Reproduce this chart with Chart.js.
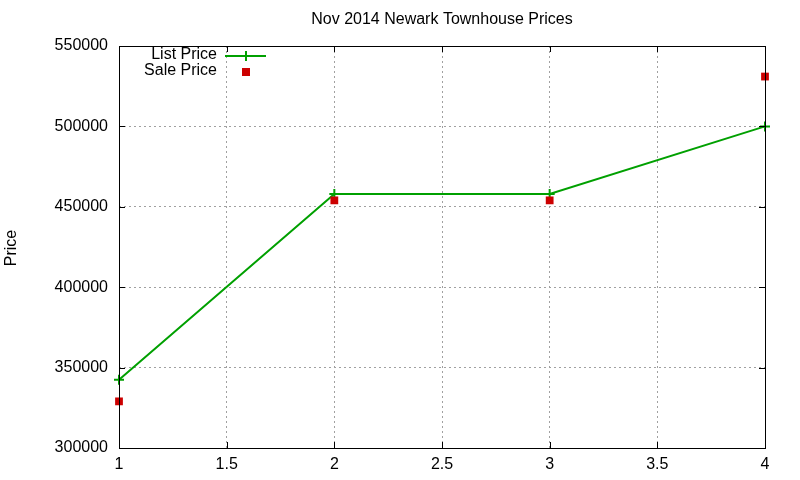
<!DOCTYPE html>
<html>
<head>
<meta charset="utf-8">
<script src="https://cdn.jsdelivr.net/npm/chart.js@4"></script>
<style>
  html, body { margin: 0; padding: 0; background: #fff; }
  #wrap { width: 800px; height: 480px; }
</style>
</head>
<body>
<div id="wrap"><canvas id="mycanvas" width="800" height="480"></canvas></div>
<script>
// values
var weeks = [1, 2, 3, 4];
var listPrice = [342500, 458000, 458000, 500000];
var salePrice = [329000, 454000, 454000, 531000];
var xTicks = [1, 1.5, 2, 2.5, 3, 3.5, 4];
var yTicks = [300000, 350000, 400000, 450000, 500000, 550000];

var FONT = '"Liberation Sans", Arial, sans-serif';

function pts(xs, ys) {
	var out = [];
	for (var i in xs) {
		out.push({x: xs[i], y: ys[i]});
	}
	return out;
}

// frame, inward ticks, title, y label and legend the gnuplot way
var gnuplotBits = {
	id: 'gnuplotBits',
	afterDraw: function(chart) {
		var c = chart.ctx;
		var a = chart.chartArea;
		var xs = chart.scales.x, ys = chart.scales.y;
		c.save();
		c.strokeStyle = '#000';
		c.lineWidth = 1;
		c.strokeRect(a.left + 0.5, a.top + 0.5, a.right - a.left, a.bottom - a.top);
		c.beginPath();
		xTicks.forEach(function(t) {
			var px = Math.round(xs.getPixelForValue(t)) + 0.5;
			c.moveTo(px, a.bottom); c.lineTo(px, a.bottom - 6);
			c.moveTo(px, a.top); c.lineTo(px, a.top + 6);
		});
		yTicks.forEach(function(t) {
			var py = Math.round(ys.getPixelForValue(t)) + 0.5;
			c.moveTo(a.left, py); c.lineTo(a.left + 6, py);
			c.moveTo(a.right, py); c.lineTo(a.right - 6, py);
		});
		c.stroke();

		c.fillStyle = '#000';
		c.font = '16px ' + FONT;
		c.textAlign = 'center';
		c.textBaseline = 'middle';
		c.fillText('Nov 2014 Newark Townhouse Prices', (a.left + a.right) / 2, 20);

		c.save();
		c.translate(12, 248);
		c.rotate(-Math.PI / 2);
		c.fillText('Price', 0, 0);
		c.restore();

		// legend
		c.textAlign = 'right';
		c.fillText('List Price', 217, 55);
		c.fillText('Sale Price', 217, 71);
		c.strokeStyle = '#00a000';
		c.lineWidth = 2;
		c.beginPath();
		c.moveTo(225, 56); c.lineTo(266, 56);
		c.moveTo(246, 51); c.lineTo(246, 61);
		c.stroke();
		c.fillStyle = '#cc0000';
		c.fillRect(242, 68, 8, 8);
		c.restore();
	}
};

var ctx = document.getElementById('mycanvas');

var chart = new Chart(ctx, {
	type: 'line',
	data: {
		datasets: [
			{
				label: 'Sale Price',
				data: pts(weeks, salePrice),
				showLine: false,
				pointStyle: 'rect',
				pointRadius: 5.5,
				backgroundColor: '#cc0000',
				borderColor: '#cc0000',
				borderWidth: 0,
				clip: false
			},
			{
				label: 'List Price',
				data: pts(weeks, listPrice),
				borderColor: '#00a000',
				backgroundColor: '#00a000',
				borderWidth: 2,
				pointStyle: 'cross',
				pointRadius: 5,
				pointBorderWidth: 2,
				tension: 0,
				clip: false
			}
		]
	},
	options: {
		responsive: false,
		animation: false,
		events: [],
		layout: { padding: { top: 46, right: 35, left: 0, bottom: 0 } },
		plugins: {
			legend: { display: false },
			title: { display: false },
			tooltip: { enabled: false }
		},
		scales: {
			x: {
				type: 'linear',
				min: 1,
				max: 4,
				afterBuildTicks: function(s) {
					s.ticks = xTicks.map(function(v) { return {value: v}; });
				},
				afterFit: function(s) { s.height = 32; },
				grid: { color: '#a0a0a0', drawTicks: false, lineWidth: 1 },
				border: { display: false, dash: [2, 3] },
				ticks: {
					color: '#000',
					padding: 7,
					maxRotation: 0,
					font: { family: FONT, size: 16 },
					callback: function(v) { return '' + v; }
				}
			},
			y: {
				min: 300000,
				max: 550000,
				afterBuildTicks: function(s) {
					s.ticks = yTicks.map(function(v) { return {value: v}; });
				},
				afterFit: function(s) { s.width = 119; },
				grid: { color: '#a0a0a0', drawTicks: false, lineWidth: 1 },
				border: { display: false, dash: [2, 3] },
				ticks: {
					color: '#000',
					padding: 11,
					font: { family: FONT, size: 16 },
					callback: function(v) { return '' + v; }
				}
			}
		}
	},
	plugins: [gnuplotBits]
});
</script>
</body>
</html>
